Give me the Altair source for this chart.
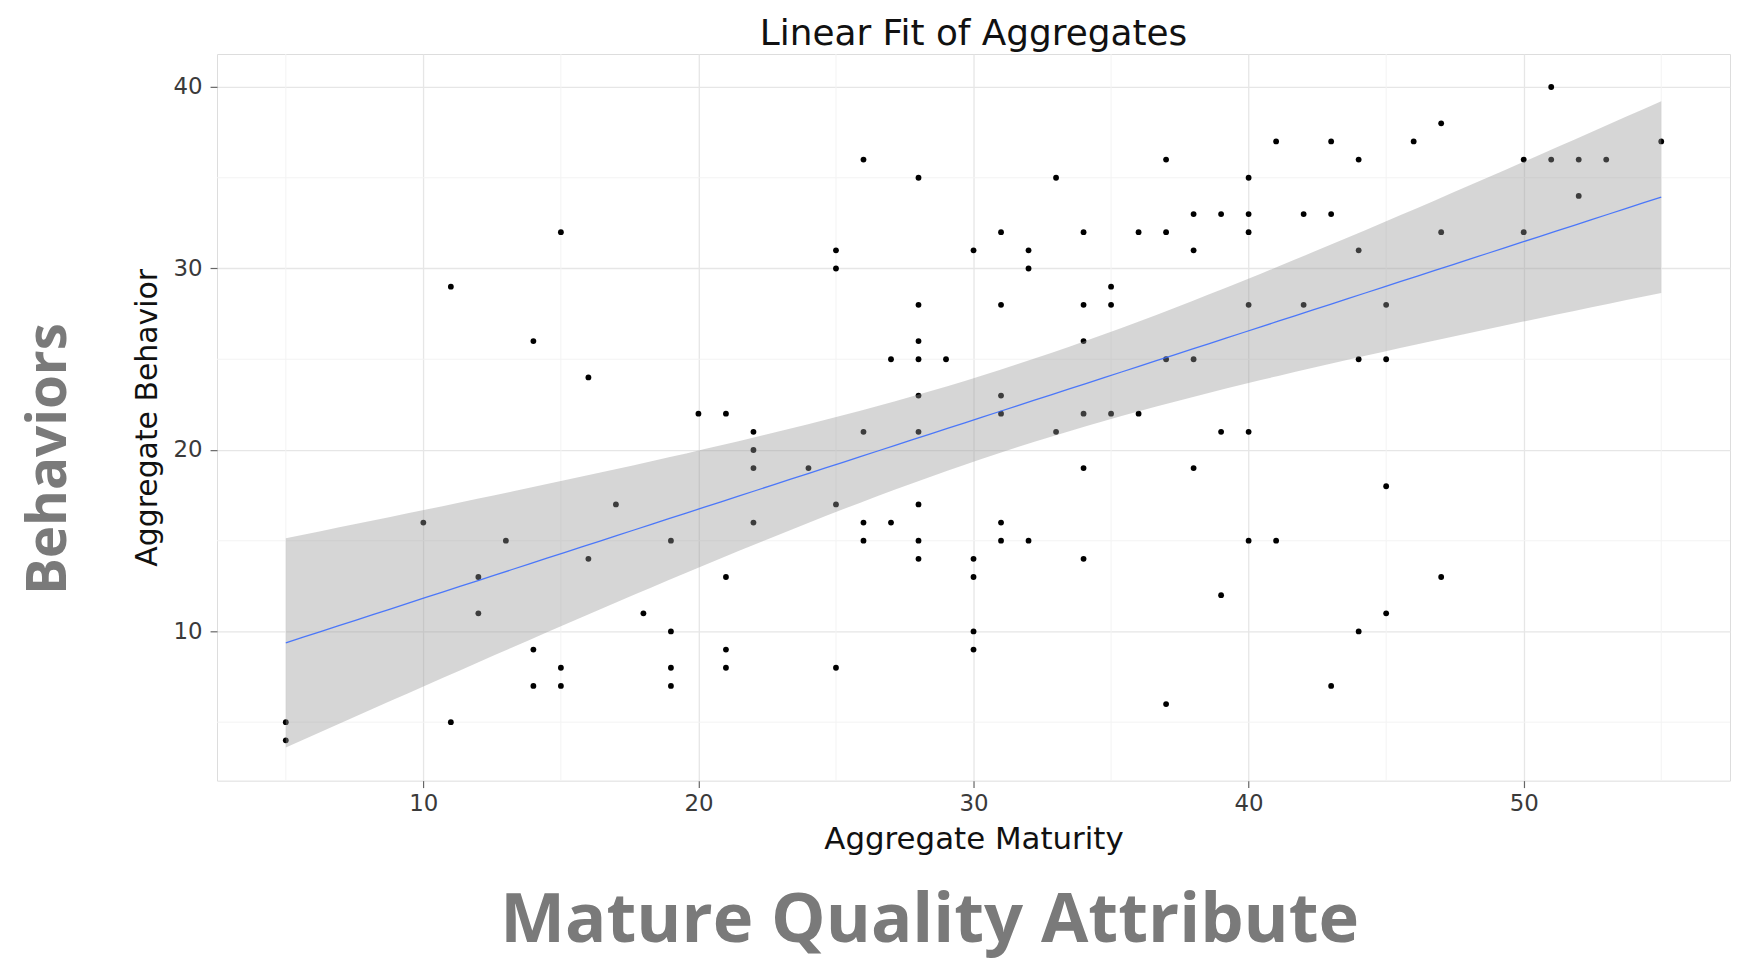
import altair as alt
import numpy as np
import pandas as pd

# ---- data ----
maturity = [5, 5, 10, 11, 11, 12, 12, 13, 14, 14, 14, 15, 15, 15, 16, 16, 17, 18,
            19, 19, 19, 19, 20, 21, 21, 21, 21, 22, 22, 22, 22, 24, 25, 25, 25, 25,
            26, 26, 26, 26, 27, 27, 28, 28, 28, 28, 28, 28, 28, 28, 28, 29,
            30, 30, 30, 30, 30, 31, 31, 31, 31, 31, 31, 32, 32, 32, 33, 33,
            34, 34, 34, 34, 34, 34, 35, 35, 35, 36, 36, 37, 37, 37, 37,
            38, 38, 38, 38, 39, 39, 39, 40, 40, 40, 40, 40, 40, 41, 41, 42, 42,
            43, 43, 43, 44, 44, 44, 44, 45, 45, 45, 45, 46, 47, 47, 47,
            50, 50, 51, 51, 52, 52, 53, 55]
behavior = [5, 4, 16, 29, 5, 13, 11, 15, 26, 9, 7, 32, 8, 7, 24, 14, 17, 11,
            15, 10, 8, 7, 22, 22, 13, 9, 8, 21, 20, 19, 16, 19, 31, 30, 17, 8,
            36, 21, 16, 15, 25, 16, 35, 28, 26, 25, 23, 21, 17, 15, 14, 25,
            31, 14, 13, 10, 9, 32, 28, 23, 22, 16, 15, 31, 30, 15, 35, 21,
            32, 28, 26, 22, 19, 14, 29, 28, 22, 32, 22, 36, 32, 25, 6,
            33, 31, 25, 19, 33, 21, 12, 35, 33, 32, 28, 21, 15, 37, 15, 33, 28,
            37, 33, 7, 36, 31, 25, 10, 28, 25, 18, 11, 37, 38, 32, 13,
            36, 32, 40, 36, 36, 34, 36, 37]
assert len(maturity) == len(behavior)

x_ticks = [10, 20, 30, 40, 50]
y_ticks = [10, 20, 30, 40]
x_minor = [5, 15, 25, 35, 45, 55]
y_minor = [5, 15, 25, 35]

chart_title = ["Linear Fit of Aggregates"]
x_title = "Aggregate Maturity"
y_title = "Aggregate Behavior"
side_label = ["Behaviors"]
bottom_label = ["Mature Quality Attribute"]

# ---- linear fit with confidence band (as ggplot geom_smooth(method="lm")) ----
xa = np.array(maturity, float)
ya = np.array(behavior, float)
n = len(xa)
slope, intercept = np.polyfit(xa, ya, 1)
resid = ya - (intercept + slope * xa)
s = np.sqrt(np.sum(resid ** 2) / (n - 2))
xbar = xa.mean()
sxx = np.sum((xa - xbar) ** 2)
T_CRIT = 3.2  # band width factor chosen to match the band drawn in the reference
grid = np.linspace(xa.min(), xa.max(), 80)
fit = intercept + slope * grid
se = s * np.sqrt(1.0 / n + (grid - xbar) ** 2 / sxx)
band_df = pd.DataFrame({"x": grid, "fit": fit, "lo": fit - T_CRIT * se, "hi": fit + T_CRIT * se})
pts_df = pd.DataFrame({"x": maturity, "y": behavior})

W, H = 1520, 730
FONT = "DejaVu Sans"

xs = alt.Scale(domain=[2.5, 57.5], nice=False, zero=False)
ys = alt.Scale(domain=[1.78, 41.82], nice=False, zero=False)

x_axis = alt.Axis(values=x_ticks, title=x_title, grid=True, gridColor="#e6e6e6", gridWidth=1.3,
                  domain=False, tickColor="#666666", tickSize=7, tickWidth=1.2, labelPadding=5,
                  labelFont=FONT, labelFontSize=23, labelColor="#3a3a3a",
                  titleFont=FONT, titleFontSize=31, titleFontWeight="normal", titleColor="#111111",
                  titleX=W / 2, titleY=68, titleBaseline="alphabetic", titleAlign="center")
y_axis = alt.Axis(values=y_ticks, title=y_title, grid=True, gridColor="#e6e6e6", gridWidth=1.3,
                  domain=False, tickColor="#666666", tickSize=7, tickWidth=1.2, labelPadding=8,
                  labelFont=FONT, labelFontSize=23, labelColor="#3a3a3a",
                  titleFont=FONT, titleFontSize=30, titleFontWeight="normal", titleColor="#111111",
                  titleAngle=270, titleX=-61, titleY=H / 2, titleBaseline="alphabetic", titleAlign="center")

minor_x = alt.Chart(pd.DataFrame({"v": x_minor})).mark_rule(color="#f3f3f3", strokeWidth=1).encode(
    x=alt.X("v:Q", scale=xs))
minor_y = alt.Chart(pd.DataFrame({"v": y_minor})).mark_rule(color="#f3f3f3", strokeWidth=1).encode(
    y=alt.Y("v:Q", scale=ys))

points = alt.Chart(pts_df).mark_circle(size=34, color="#000000", opacity=1).encode(
    x=alt.X("x:Q", scale=xs, axis=x_axis),
    y=alt.Y("y:Q", scale=ys, axis=y_axis),
)
band = alt.Chart(band_df).mark_area(color="#999999", opacity=0.4).encode(
    x=alt.X("x:Q", scale=xs), y=alt.Y("lo:Q", scale=ys), y2="hi:Q")
line = alt.Chart(band_df).mark_line(color="#3366FF", strokeWidth=1.3, opacity=0.85).encode(
    x=alt.X("x:Q", scale=xs), y=alt.Y("fit:Q", scale=ys))

title = alt.Chart(pd.DataFrame({"t": chart_title})).mark_text(
    font=FONT, fontSize=36, color="#111111", align="center", baseline="alphabetic").encode(
    text="t:N", x=alt.value(W / 2), y=alt.value(-9))
side = alt.Chart(pd.DataFrame({"t": side_label})).mark_text(
    angle=270, font="Open Sans", fontSize=55, fontWeight="bold",
    color="#7a7a7a", align="center", baseline="alphabetic").encode(
    text="t:N", x=alt.value(-152), y=alt.value(407))
bottom = alt.Chart(pd.DataFrame({"t": bottom_label})).mark_text(
    font="Open Sans", fontSize=69, fontWeight="bold",
    color="#7a7a7a", align="center", baseline="alphabetic").encode(
    text="t:N", x=alt.value(716), y=alt.value(892))

chart = alt.layer(minor_x, minor_y, points, band, line, title, side, bottom).properties(
    width=W, height=H,
    autosize=alt.AutoSizeParams(type="none"),
    padding={"left": 210, "top": 44, "right": 4, "bottom": 179},
).configure_view(stroke="#8a8a8a", strokeWidth=1.5).configure(background="white")

chart.save("out.html", embed_options={"renderer": "svg", "actions": False})
